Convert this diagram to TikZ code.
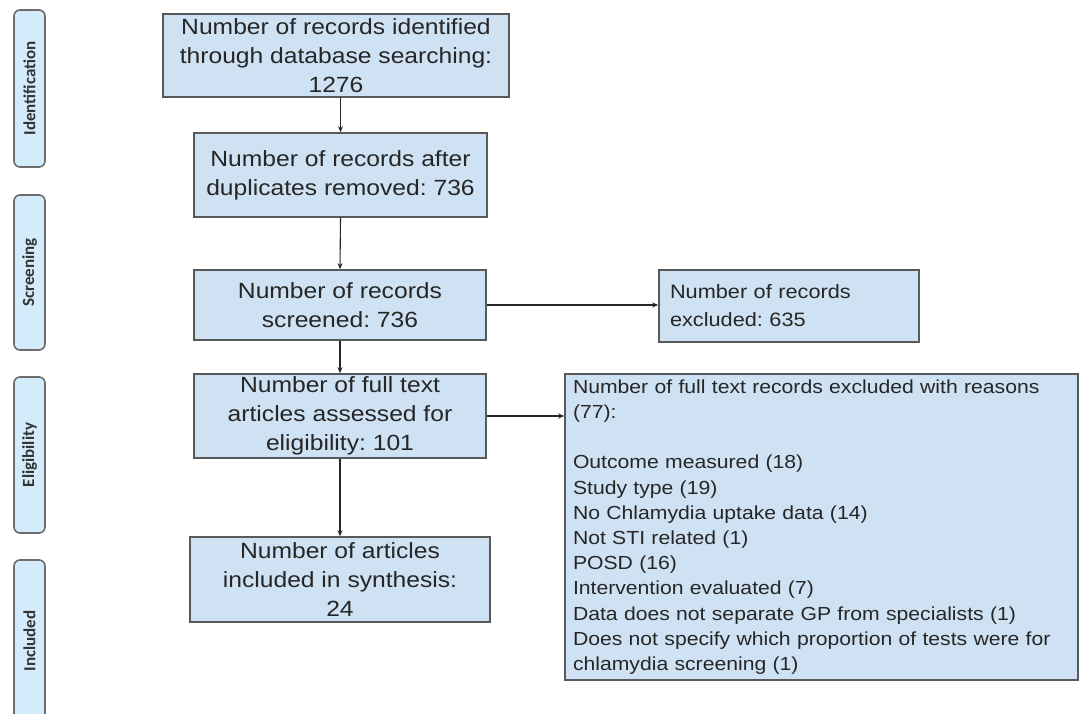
\documentclass[tikz,border=0pt]{standalone}
\usepackage{fontspec}
\setmainfont{Liberation Sans}[FakeStretch=1.12]
\newfontfamily\tabfont{Carlito}
\usetikzlibrary{arrows.meta}
\definecolor{boxblue}{HTML}{CFE2F3}
\definecolor{tabblue}{HTML}{D3EBFA}
\definecolor{edgegray}{HTML}{595959}
\frenchspacing
\begin{document}
\begin{tikzpicture}[x=1pt,y=-1pt,
    box/.style={draw=edgegray,fill=boxblue,line width=1.6pt,inner sep=0pt,
      align=center,text=black!85,font=\fontsize{22}{29}\selectfont},
    tab/.style={draw=gray!85!black,fill=tabblue,line width=1.6pt,rounded corners=6pt,
      rotate=90,inner sep=0pt,minimum height=31pt,text=black!80,
      font=\tabfont\bfseries\fontsize{17}{17}\selectfont},
    arr/.style={-{Stealth[length=6pt,width=5pt]},line width=1.1pt,black!85}]
  \useasboundingbox (0,0) rectangle (1081,714);
  \clip (0,0) rectangle (1081,714);

  % stage tabs on the left
  \foreach \lbl/\ya/\yb [count=\i] in {Identification/10/167,Screening/195/350,
      Eligibility/377/533,Included/560/722}{
    \pgfmathsetmacro\h{\yb-\ya}
    \node[tab,minimum width=\h pt] (tab\i) at (29.5,{(\ya+\yb)/2}) {\lbl};
  }

  % flow boxes
  \node[box,minimum width=346pt,minimum height=83pt] (ident) at (336,55.5)
    {Number of records identified\\through database searching:\\1276};
  \node[box,minimum width=293pt,minimum height=84pt] (dedup) at (340.5,175)
    {Number of records after\\duplicates removed: 736};
  \node[box,minimum width=292pt,minimum height=70pt] (screen) at (340,305)
    {Number of records\\screened: 736};
  \node[box,minimum width=292pt,minimum height=84pt] (fulltext) at (340,416)
    {Number of full text\\articles assessed for\\eligibility: 101};
  \node[box,minimum width=300pt,minimum height=85pt] (synth) at (340,579.5)
    {Number of articles\\included in synthesis:\\24};

  % exclusion boxes
  \node[box,align=left,text width=238pt,inner xsep=11pt,minimum height=72pt,
    font=\fontsize{19.4}{28}\selectfont] (excl) at (789,306)
    {Number of records\\excluded: 635};
  \node[box,align=left,text width=497pt,inner xsep=8pt,minimum height=306pt,
    font=\fontsize{18.9}{25.2}\selectfont] (reasons) at (821.5,527)
    {Number of full text records excluded with reasons\\(77):\\[25.2pt]
     Outcome measured (18)\\Study type (19)\\No Chlamydia uptake data (14)\\
     Not STI related (1)\\POSD (16)\\Intervention evaluated (7)\\
     Data does not separate GP from specialists (1)\\
     Does not specify which proportion of tests were for\\
     chlamydia screening (1)};

  % connectors
  \draw[arr] (ident.south -| dedup.north) -- (dedup.north);
  \draw[arr] (dedup.south) -- (screen.north);
  \draw[arr] (screen.south) -- (fulltext.north);
  \draw[arr] (fulltext.south) -- (synth.north);
  \draw[arr] (screen.east) -- (screen.east -| excl.west);
  \draw[arr] (fulltext.east) -- (fulltext.east -| reasons.west);
\end{tikzpicture}
\end{document}
